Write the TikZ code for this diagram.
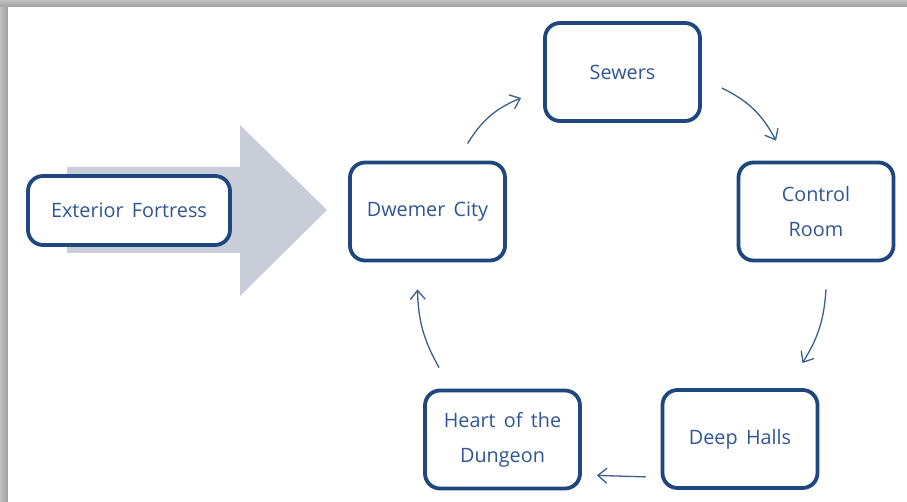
\documentclass[tikz,border=0pt]{standalone}
\usepackage{fontspec}
\setmainfont{Open Sans}
\usetikzlibrary{arrows.meta,calc}
\definecolor{boxline}{HTML}{1F477F}
\definecolor{boxtext}{HTML}{2F5597}
\definecolor{arrowc}{HTML}{3C5E8C}
\definecolor{bigarrow}{HTML}{C9CDD8}
\tikzset{
  room/.style={draw=boxline, line width=3.8pt, rounded corners=15pt, fill=white,
    minimum width=155pt, minimum height=98pt, align=center, text=boxtext,
    font=\fontsize{19.8pt}{35pt}\selectfont, inner sep=0pt},
  flow/.style={draw=arrowc, line width=1.3pt, -{Straight Barb[length=9pt,width=15pt,line width=1.3pt]}},
}
\newcommand{\ws}{\hspace{0.42em}}
\begin{document}
\begin{tikzpicture}[x=1pt,y=1pt]
\useasboundingbox (0,-502) rectangle (907,0);
% frame shadow
\fill[left color=gray!50, right color=gray!75] (0,-502) rectangle (8,0);
\fill[top color=gray!50, bottom color=gray!75] (0,-7) rectangle (907,0);
\fill[white] (8,-502) rectangle (907,-7);
% big gray arrow
\fill[bigarrow] (67,-167) -- (240,-167) -- (240,-125) -- (327,-210) -- (240,-296) -- (240,-253) -- (67,-253) -- cycle;
% nodes
\node[room] (sewers) at (622.5,-72) {Sewers};
\node[room] (dwemer) at (427.5,-211.5) {Dwemer\ws City};
\node[room] (control) at (816,-211.5) {Control\\Room};
\node[room] (deep) at (740,-439) {Deep\ws Halls};
\node[room] (heart) at (502.5,-439.5) {Heart\ws of\ws the\\Dungeon};
\node[room, minimum width=202pt, minimum height=69pt] (ext) at (129,-210.5) {Exterior\ws Fortress};
% connectors
\draw[flow] ([xshift=40pt,yshift=17pt]dwemer.north) to[bend left=18] ([xshift=-22pt,yshift=-26pt]sewers.west);
\draw[flow] ([xshift=20pt,yshift=-16pt]sewers.east) to[bend left=18] ([xshift=-40pt,yshift=20pt]control.north);
\draw[flow] ([xshift=10pt,yshift=-27pt]control.south) to[bend left=14] ([xshift=-17pt,yshift=25pt]deep.north east);
\draw[flow] ([xshift=-15pt,yshift=13pt]deep.south west) -- ([xshift=15pt,yshift=15pt]heart.south east);
\draw[flow] ([xshift=16pt,yshift=21pt]heart.north west) to[bend left=14] ([xshift=-10pt,yshift=-27pt]dwemer.south);
\end{tikzpicture}
\end{document}
